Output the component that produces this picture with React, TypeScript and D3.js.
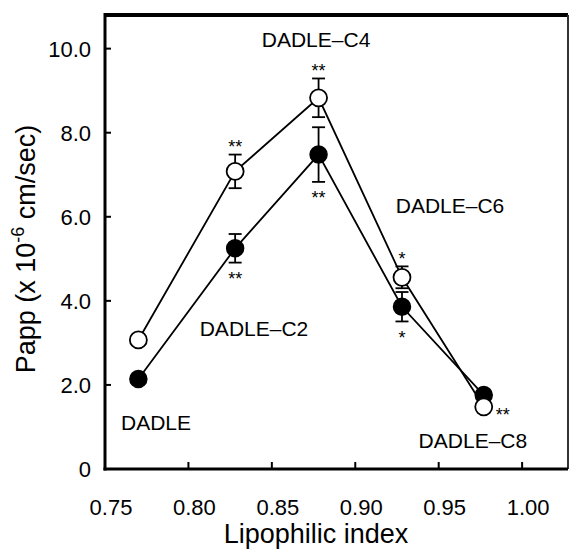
import React from "react";
import { scaleLinear, line } from "d3";

// values
const lipophilicIndex = [0.77, 0.828, 0.878, 0.928, 0.977];
const pappOpen = [3.07, 7.08, 8.83, 4.56, 1.48];
const pappOpenErr = [0, 0.4, 0.46, 0.26, 0];
const pappFilled = [2.14, 5.25, 7.48, 3.86, 1.76];
const pappFilledErr = [0, 0.34, 0.65, 0.35, 0];
const openStars = ["", "**", "**", "*", "**"];
const filledStars = ["", "**", "**", "*", ""];

const yTicks = [0, 2, 4, 6, 8, 10];
const yTickLabels = ["0", "2.0", "4.0", "6.0", "8.0", "10.0"];
const xTicks = [0.75, 0.8, 0.85, 0.9, 0.95, 1.0];
const xTickLabels = ["0.75", "0.80", "0.85", "0.90", "0.95", "1.00"];

const compoundNames = ["DADLE", "DADLE–C2", "DADLE–C4", "DADLE–C6", "DADLE–C8"];

const W = 570;
const H = 554;
const font = "'Liberation Sans', Arial, Helvetica, sans-serif";

const App = () => {
  const x = scaleLinear().domain([0.75, 1.0275]).range([105, 568]);
  const y = scaleLinear().domain([0, 10.8]).range([469, 15]);

  const pts = (vals: number[]) => lipophilicIndex.map((d, i) => [x(d), y(vals[i])] as [number, number]);
  const path = line();

  const r = 8.5;
  const capW = 6.5;

  // label anchors (data units, text centre / baseline) for the compound names
  const nameX = [0.7806, 0.8393, 0.8765, 0.9568, 0.9705];
  const nameY = [0.93, 3.16, 10.04, 6.09, 0.5];

  const errBars = (vals: number[], errs: number[], key: string) =>
    lipophilicIndex.map((d, i) =>
      errs[i] > 0 ? (
        <g key={key + i} stroke="#000" strokeWidth={1.8}>
          <line x1={x(d)} x2={x(d)} y1={y(vals[i] + errs[i])} y2={y(vals[i] - errs[i])} />
          <line x1={x(d) - capW} x2={x(d) + capW} y1={y(vals[i] + errs[i])} y2={y(vals[i] + errs[i])} />
          <line x1={x(d) - capW} x2={x(d) + capW} y1={y(vals[i] - errs[i])} y2={y(vals[i] - errs[i])} />
        </g>
      ) : null
    );

  return (
    <svg width={W} height={H} style={{ position: "absolute", left: 0, top: 0, background: "#fff" }} fontFamily={font}>
      {/* frame */}
      <line x1={105} x2={568} y1={15} y2={15} stroke="#000" strokeWidth={4} />
      <line x1={568} x2={568} y1={15} y2={469} stroke="#333" strokeWidth={2} />
      <line x1={105} x2={105} y1={13} y2={470.5} stroke="#000" strokeWidth={3} />
      <line x1={103.5} x2={568} y1={469} y2={469} stroke="#000" strokeWidth={3} />

      {/* y axis */}
      {yTicks.map((t, i) => (
        <g key={"yt" + t}>
          <line x1={105} x2={111} y1={y(t)} y2={y(t)} stroke="#000" strokeWidth={2} />
          <text x={91} y={y(t) + 8} fontSize={22} textAnchor="end">
            {yTickLabels[i]}
          </text>
        </g>
      ))}
      {/* x axis */}
      {xTicks.map((t, i) => (
        <g key={"xt" + t}>
          <line x1={x(t)} x2={x(t)} y1={469} y2={462} stroke="#000" strokeWidth={2} />
          <text x={x(t) + 6} y={515} fontSize={22} textAnchor="middle">
            {xTickLabels[i]}
          </text>
        </g>
      ))}

      <text x={316} y={543} fontSize={27} textAnchor="middle">
        Lipophilic index
      </text>
      <text transform="translate(35,249) rotate(-90)" fontSize={27} textAnchor="middle">
        Papp (x 10
        <tspan fontSize={18} dy={-11}>
          -6
        </tspan>
        <tspan dy={11}> cm/sec)</tspan>
      </text>

      {/* lines */}
      <path d={path(pts(pappFilled)) || ""} fill="none" stroke="#000" strokeWidth={1.8} />
      <path d={path(pts(pappOpen)) || ""} fill="none" stroke="#000" strokeWidth={1.8} />

      {errBars(pappFilled, pappFilledErr, "fe")}
      {errBars(pappOpen, pappOpenErr, "oe")}

      {pts(pappFilled).map(([cx, cy], i) => (
        <circle key={"fc" + i} cx={cx} cy={cy} r={r} fill="#000" stroke="#000" strokeWidth={1.5} />
      ))}
      {pts(pappOpen).map(([cx, cy], i) => (
        <circle key={"oc" + i} cx={cx} cy={cy} r={r} fill="#fff" stroke="#000" strokeWidth={1.8} />
      ))}

      {/* significance marks */}
      {lipophilicIndex.map((d, i) =>
        openStars[i] ? (
          pappOpenErr[i] > 0 ? (
            <text key={"os" + i} x={x(d)} y={y(pappOpen[i] + pappOpenErr[i]) - 1.5} fontSize={18} textAnchor="middle">
              {openStars[i]}
            </text>
          ) : (
            <text key={"os" + i} x={x(d) + 12} y={y(pappOpen[i]) + 14} fontSize={18}>
              {openStars[i]}
            </text>
          )
        ) : null
      )}
      {lipophilicIndex.map((d, i) =>
        filledStars[i] ? (
          <text key={"fs" + i} x={x(d)} y={y(pappFilled[i] - pappFilledErr[i]) + 22.5} fontSize={18} textAnchor="middle">
            {filledStars[i]}
          </text>
        ) : null
      )}

      {/* compound names */}
      {compoundNames.map((n, i) => (
        <text key={n} x={x(nameX[i])} y={y(nameY[i])} fontSize={21} textAnchor="middle">
          {n}
        </text>
      ))}
    </svg>
  );
};

export default App;
